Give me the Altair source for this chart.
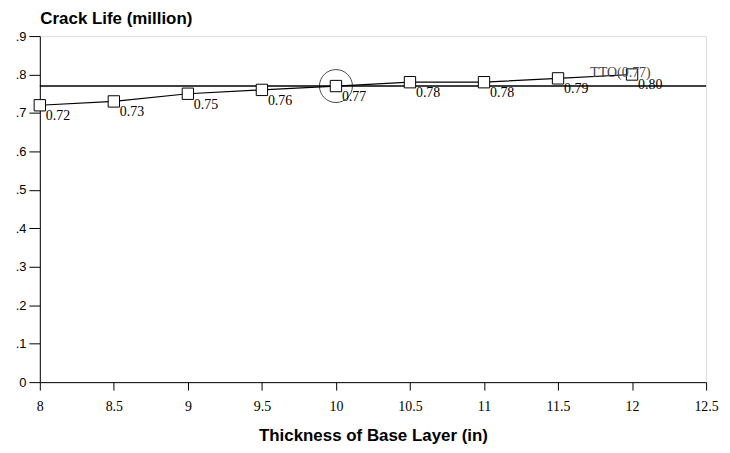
import altair as alt
import pandas as pd

thickness = [8, 8.5, 9, 9.5, 10, 10.5, 11, 11.5, 12]
crack_life = [0.72, 0.73, 0.75, 0.76, 0.77, 0.78, 0.78, 0.79, 0.80]
labels = ["0.72", "0.73", "0.75", "0.76", "0.77", "0.78", "0.78", "0.79", "0.80"]
x_ticks = [8, 8.5, 9, 9.5, 10, 10.5, 11, 11.5, 12, 12.5]
y_ticks = [0, 0.1, 0.2, 0.3, 0.4, 0.5, 0.6, 0.7, 0.8, 0.9]
target_value = 0.77
target_label = "TTO(0.77)"
highlight_x = 10

df = pd.DataFrame({"x": thickness, "y": crack_life, "label": labels})
ref = pd.DataFrame({"x": [8], "x2": [12.5], "y": [target_value]})
hl = df[df["x"] == highlight_x]
tto = pd.DataFrame({"x": [thickness[-1]], "y": [crack_life[-1]], "t": [target_label]})

xs = alt.Scale(domain=[8, 12.5], nice=False, zero=False)
ys = alt.Scale(domain=[0, 0.9], nice=False)

xaxis = alt.Axis(
    values=x_ticks, title="Thickness of Base Layer (in)", grid=False, format="~g",
    tickSize=8, labelPadding=10, labelFont="Liberation Serif", labelFontSize=14,
    labelColor="black", domainColor="black", tickColor="black", labelOverlap=False,
    titleFont="Liberation Sans", titleFontSize=17, titleFontWeight="bold",
    titleColor="black", titlePadding=14, labelFlush=False)
yaxis = alt.Axis(
    values=y_ticks, tickCount=10, title="Crack Life (million)", grid=False, labelOverlap=False,
    tickSize=11, labelPadding=3, labelFont="Liberation Sans", labelFontSize=13,
    labelColor="black", domainColor="black", tickColor="black", labelFlush=False,
    labelExpr="datum.value == 0 ? '0' : replace(format(datum.value, '.1f'), '0.', '.')",
    titleAngle=0, titleAlign="left", titleBaseline="bottom", titleX=0, titleY=-9,
    titleFont="Liberation Sans", titleFontSize=17, titleFontWeight="bold",
    titleColor="black")

X = alt.X("x:Q", scale=xs, axis=xaxis)
Y = alt.Y("y:Q", scale=ys, axis=yaxis)

ref_line = alt.Chart(ref).mark_rule(color="black", strokeWidth=1.5).encode(
    x=X, x2="x2:Q", y=Y)
line = alt.Chart(df).mark_line(color="black", strokeWidth=1.2).encode(x=X, y=Y)
pts = alt.Chart(df).mark_point(shape="square", size=130, filled=True, fill="white",
                               stroke="black", strokeWidth=1, opacity=1).encode(x=X, y=Y)
circ = alt.Chart(hl).mark_point(shape="circle", size=1100, filled=False,
                                color="black", strokeWidth=1).encode(x=X, y=Y)
txt = alt.Chart(df).mark_text(align="left", baseline="middle", dx=6, dy=11,
                              font="Liberation Serif", fontSize=14, color="black").encode(
    x=X, y=Y, text="label:N")
tto_txt = alt.Chart(tto).mark_text(align="left", baseline="middle", dx=-42, dy=-2,
                                   font="Liberation Serif", fontSize=14, color="#444").encode(
    x=X, y=Y, text="t:N")

chart = alt.layer(line, ref_line, pts, circ, txt, tto_txt).properties(
    width=670, height=348,
    autosize=alt.AutoSizeParams(type="none"),
    padding={"left": 32, "top": 27, "right": 16, "bottom": 62},
).configure_view(stroke="black", strokeWidth=1.5).configure(background="white")

chart.save("out.html", embed_options={"renderer": "svg", "actions": False})
